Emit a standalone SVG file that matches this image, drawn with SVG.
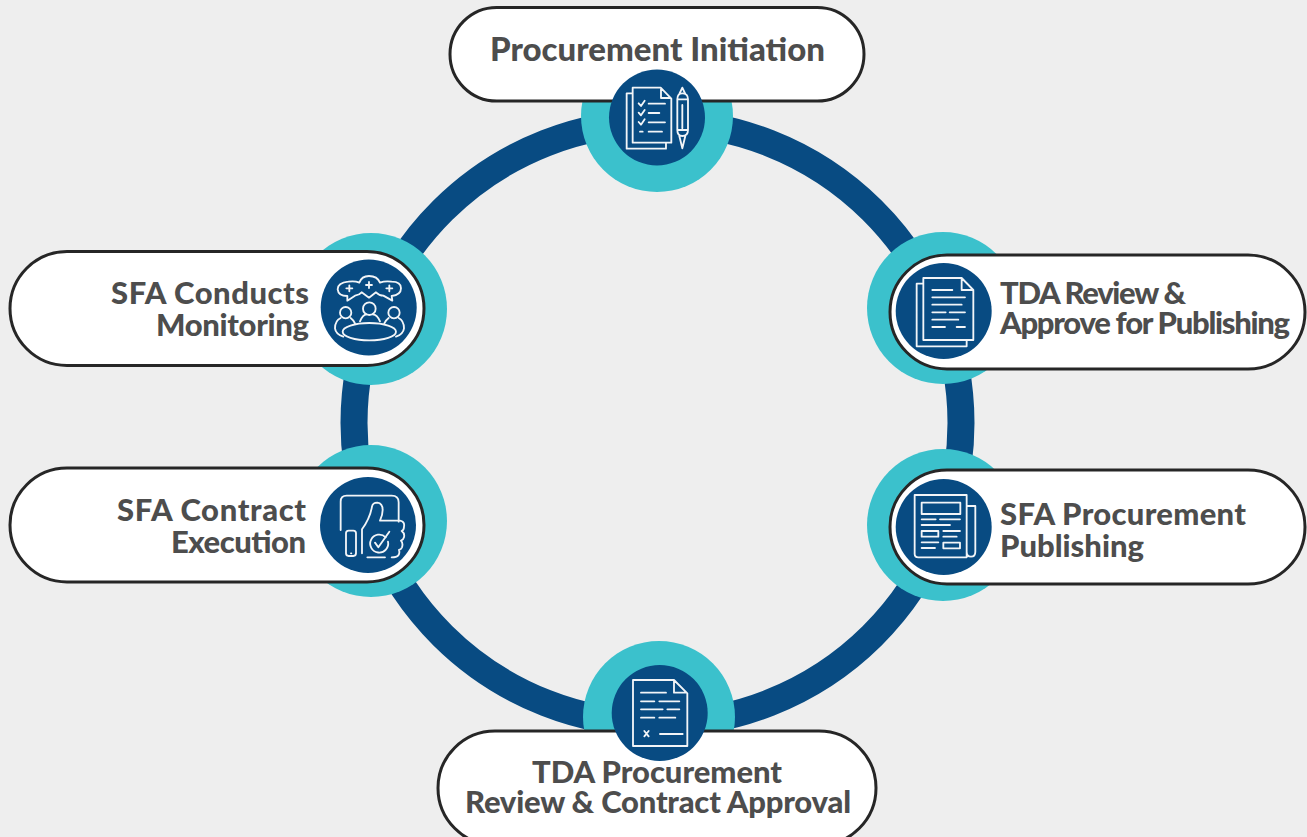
<svg xmlns="http://www.w3.org/2000/svg" width="1307" height="837" viewBox="0 0 1307 837">
<style>
.teal{fill:#3bc1cc}
.navy{fill:#084b82}
.pill{fill:#fff;stroke:#262626;stroke-width:3}
.t{font-family:"Lato","Liberation Sans",sans-serif;font-weight:900;fill:#4d4d4d;font-size:31px}
.h{font-size:33px}
.i{fill:none;stroke:#f2f5f8;stroke-width:5.5;stroke-linecap:round;stroke-linejoin:round}
</style>
<rect width="1307" height="837" fill="#eeeeee"/>
<g id="connectors"><ellipse cx="657.5" cy="423" rx="303.5" ry="301" fill="none" stroke="#084b82" stroke-width="27"/></g>

<g id="node-initiation">
<circle class="teal" cx="657" cy="116" r="76"/>
<rect class="pill" x="450" y="7.5" width="414" height="93.5" rx="46.7"/>
<circle class="navy" cx="657" cy="117.5" r="48"/>
<g class="i" transform="translate(560 50) scale(.3333)">
<path d="M217,130H200V296H318V278M218,113H302L334,146V278H218ZM303,118V144H332M236,160l7,8l11,-16M236,188l7,8l11,-16M236,216l7,8l11,-16M266,161H315M266,189H298M266,217H315M266,245H306M240,245H248"/>
<path d="M358,132L367,113L376,132M352,148Q352,130 367,130Q384,130 384,148V240Q384,258 367,258Q352,258 352,240ZM352,148H384M367,165V235M352,240H384M358,258L367,295L376,258"/>
</g>
<text class="t h" x="490" y="60.5" textLength="335">Procurement Initiation</text>
</g>

<g id="node-review">
<circle class="teal" cx="943" cy="308" r="76"/>
<rect class="pill" x="890" y="255" width="415" height="114" rx="57"/>
<circle class="navy" cx="943.7" cy="311" r="48"/>
<g class="i" transform="translate(860 240) scale(.3333)">
<path d="M190,131H170V319H320V300M190,114H305L340,150V300H190ZM305,117V150H338M217,150H277M217,172H315M217,194H305M217,217H257M269,217H315M217,239H295M217,261H255M290,261H315"/>
</g>
<text class="t" x="1000" y="304" textLength="186">TDA Review &amp;</text>
<text class="t" x="1000" y="334" textLength="290">Approve for Publishing</text>
</g>

<g id="node-publishing">
<circle class="teal" cx="943" cy="525" r="76"/>
<rect class="pill" x="890" y="470" width="415" height="114" rx="57"/>
<circle class="navy" cx="943.7" cy="527" r="48"/>
<g class="i" transform="translate(860 450) scale(.3333)">
<path d="M164,135H320V322H175Q164,322 164,312ZM320,168H346V305Q346,320 333,320Q320,320 320,305M185,158H301V192H185ZM185,208H227M240,208H300M185,225H270M185,243H235V260H185ZM250,243H300M250,260H290M185,277H235M250,278H300V295H250ZM185,294H225"/>
</g>
<text class="t" x="1000" y="525" textLength="246">SFA Procurement</text>
<text class="t" x="1000" y="557" textLength="144">Publishing</text>
</g>

<g id="node-approval">
<circle class="teal" cx="659" cy="717" r="76"/>
<rect class="pill" x="438" y="731" width="438" height="114" rx="57"/>
<circle class="navy" cx="659.7" cy="713" r="48"/>
<g class="i" transform="translate(570 640) scale(.3333)">
<path d="M189,120H312L352,160V318H189ZM312,122V158H350M213,158H288M213,184H253M268,184H328M213,208H278M292,208H328M213,233H253M268,233H316M223,273L236,289M236,273L223,289M270,282H338"/>
</g>
<text class="t" x="532" y="783" textLength="250">TDA Procurement</text>
<text class="t" x="465" y="813" textLength="386">Review &amp; Contract Approval</text>
</g>

<g id="node-execution">
<circle class="teal" cx="371" cy="521" r="76"/>
<rect class="pill" x="10" y="468" width="414" height="114" rx="57"/>
<circle class="navy" cx="368" cy="525" r="48"/>
<g class="i" transform="translate(300 450) scale(.3333)">
<path d="M122,240V155Q122,137 140,137H275Q296,137 296,157V215M186,310V238Q210,205 216,170Q218,158 232,158Q248,160 248,180Q248,195 240,212H300Q315,215 312,230Q312,240 305,243Q315,250 312,262Q310,270 303,272Q310,280 306,292Q303,298 297,300Q300,310 295,316Q290,322 275,322M202,322H255M138,250Q138,242 146,242H160Q168,242 168,250V310Q168,318 160,318H146Q138,318 138,310ZM153,310H154M225,278L235,292L268,245"/>
<path d="M257,262A27,27 0 1 0 264,275"/>
</g>
<text class="t" x="117" y="521" textLength="189">SFA Contract</text>
<text class="t" x="171" y="553" textLength="135">Execution</text>
</g>

<g id="node-monitoring">
<circle class="teal" cx="371" cy="309" r="76"/>
<rect class="pill" x="10" y="251.5" width="414" height="114" rx="57"/>
<circle class="navy" cx="368.7" cy="307.5" r="48"/>
<g class="i" transform="translate(300 230) scale(.3333)">
<path d="M178,158Q165,152 145,155Q113,158 113,178Q115,198 142,198L142,212L165,197Q178,195 185,187L207,203L228,187Q238,197 250,197L277,212L275,198Q303,195 303,175Q303,155 275,155Q255,152 240,158Q232,138 207,138Q185,138 178,158Z"/>
<path d="M139,175H157M148,166V184M198,165H216M207,156V174M259,175H277M268,166V184"/>
<circle cx="137" cy="248" r="17"/><circle cx="208" cy="236" r="19"/><circle cx="282" cy="248" r="17"/>
<path d="M180,274Q188,254 200,253M240,274Q232,254 218,253M122,264Q105,272 105,295Q107,312 130,320M152,264Q160,270 165,280M296,264Q312,272 312,295Q310,312 288,320M266,264Q258,270 253,280"/>
<ellipse cx="208" cy="305" rx="80" ry="26"/>
</g>
<text class="t" x="111" y="304" textLength="198">SFA Conducts</text>
<text class="t" x="156" y="336" textLength="153">Monitoring</text>
</g>
</svg>
